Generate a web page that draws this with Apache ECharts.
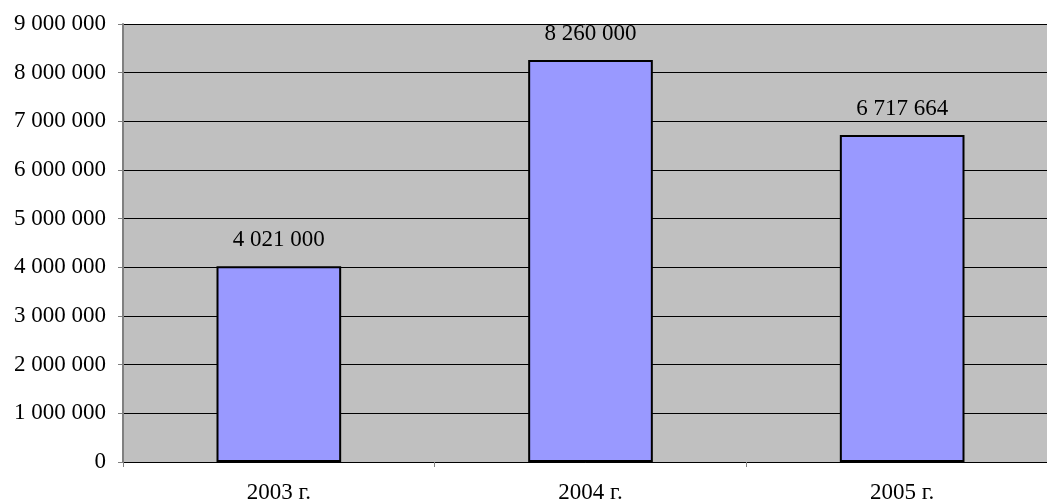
<!DOCTYPE html>
<html><head><meta charset="utf-8">
<script src="https://cdn.jsdelivr.net/npm/echarts@6/dist/echarts.min.js"></script>
<style>html,body{margin:0;padding:0;background:#fff}#c{width:1047px;height:503px}</style>
</head><body><div id="c"></div>
<script>
const categories = ['2003 г.', '2004 г.', '2005 г.'];
const values = [4021000, 8260000, 6717664];
const yMin = 0, yMax = 9000000, yStep = 1000000;

function fmt(v){ return String(Math.round(v)).replace(/\B(?=(\d{3})+(?!\d))/g, ' '); }

const chart = echarts.init(document.getElementById('c'), null, {renderer:'canvas'});
chart.setOption({
  animation:false,
  backgroundColor:'#ffffff',
  textStyle:{fontFamily:'Liberation Serif'},
  grid:{left:123,width:935,top:24,bottom:41,show:true,backgroundColor:'#C0C0C0',borderWidth:0,containLabel:false,outerBoundsMode:'none'},
  xAxis:{type:'category',data:categories,boundaryGap:true,
    axisLine:{show:true,lineStyle:{color:'#000',width:1}},
    axisTick:{show:true,alignWithLabel:false,length:5,lineStyle:{color:'#808080'}},
    axisLabel:{color:'#000',fontSize:23,fontFamily:'Liberation Serif',margin:19}
  },
  yAxis:{type:'value',min:yMin,max:yMax,interval:yStep,
    axisLine:{show:true,lineStyle:{color:'#808080',width:2}},
    axisTick:{show:true,length:5,lineStyle:{color:'#808080'}},
    splitLine:{show:true,lineStyle:{color:'#000',width:1}},
    axisLabel:{color:'#000',fontSize:23,fontFamily:'Liberation Serif',margin:17,formatter:fmt}
  },
  series:[{type:'bar',data:values,barWidth:'40%',
    itemStyle:{color:'#9999FF',borderColor:'#000',borderWidth:2},
    label:{show:true,position:'top',distance:15,color:'#000',fontSize:23,fontFamily:'Liberation Serif',formatter:p=>fmt(p.value)}
  }]
});
</script></body></html>
